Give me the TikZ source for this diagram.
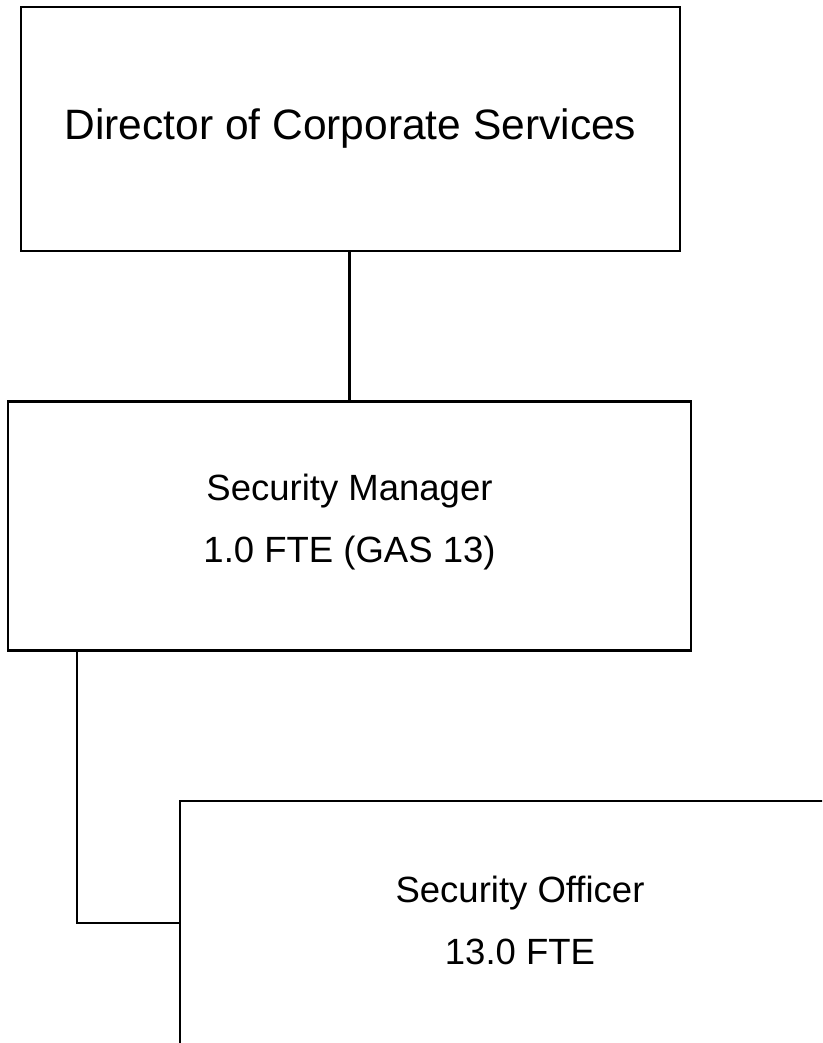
\documentclass[tikz,border=0pt]{standalone}
\usepackage{fontspec}
\setmainfont{Liberation Sans}
\usetikzlibrary{positioning}
\tikzset{
  orgbox/.style={draw, line width=2.2pt, rectangle, inner sep=0pt},
  orglink/.style={draw, line width=2.2pt},
  toptext/.style={font=\fontsize{42.5}{50}\selectfont, align=center},
  unittext/.style={font=\fontsize{36.5}{62}\selectfont, align=center}
}

\begin{document}
\begin{tikzpicture}[x=1pt,y=-1pt]
  \useasboundingbox (0,0) rectangle (822,1043);
  \clip (0,0) rectangle (822,1043);
  % boxes
  \node[orgbox, minimum width=659pt, minimum height=244pt, toptext] (director) at (350.5,129) {Director of Corporate Services};
  \node[orgbox, minimum width=683pt, minimum height=249pt] (manager) at (349.5,526) {};
  \node[unittext] (managerlbl) at (349.5,522) {Security Manager\\1.0 FTE (GAS 13)};
  \node[orgbox, anchor=north west, minimum width=690pt, minimum height=420pt] (officer) at (179,800) {};
  \node[unittext] (officerlbl) at (520,920) {Security Officer\\13.0 FTE};
  % connectors
  \coordinate (tap) at (77,923);
  \draw[orglink] (director.south -| manager.north) -- (manager.north);
  \draw[orglink] (manager.south -| tap) |- (officer.west |- tap);
\end{tikzpicture}
\end{document}
